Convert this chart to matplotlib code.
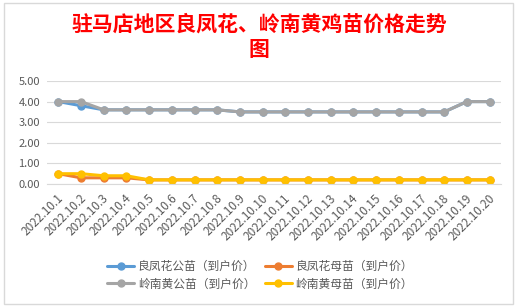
import matplotlib.pyplot as plt
import matplotlib.transforms as mtransforms
from matplotlib.patches import Rectangle

plt.rcParams["font.family"] = ["Noto Sans CJK SC", "DejaVu Sans"]

dates = [f"2022.10.{d}" for d in range(1, 21)]

lfh_male = [4.0, 3.8, 3.6, 3.6, 3.6, 3.6, 3.6, 3.6, 3.5, 3.5,
            3.5, 3.5, 3.5, 3.5, 3.5, 3.5, 3.5, 3.5, 4.0, 4.0]
lfh_female = [0.5, 0.3, 0.3, 0.3, 0.2, 0.2, 0.2, 0.2, 0.2, 0.2,
              0.2, 0.2, 0.2, 0.2, 0.2, 0.2, 0.2, 0.2, 0.2, 0.2]
lnh_male = [4.0, 4.0, 3.6, 3.6, 3.6, 3.6, 3.6, 3.6, 3.5, 3.5,
            3.5, 3.5, 3.5, 3.5, 3.5, 3.5, 3.5, 3.5, 4.0, 4.0]
lnh_female = [0.5, 0.5, 0.4, 0.4, 0.2, 0.2, 0.2, 0.2, 0.2, 0.2,
              0.2, 0.2, 0.2, 0.2, 0.2, 0.2, 0.2, 0.2, 0.2, 0.2]

series = [
    ("良凤花公苗（到户价）", lfh_male, "#5B9BD5"),
    ("良凤花母苗（到户价）", lfh_female, "#ED7D31"),
    ("岭南黄公苗（到户价）", lnh_male, "#A5A5A5"),
    ("岭南黄母苗（到户价）", lnh_female, "#FFC000"),
]

fig = plt.figure(figsize=(5.19, 3.07), dpi=100)
fig.patches.append(Rectangle((4 / 519, 1 - 304 / 307), 509 / 519, 301 / 307,
                             transform=fig.transFigure, fill=False,
                             edgecolor="#D9D9D9", linewidth=1))

ax = fig.add_axes([47 / 519, 1 - 184 / 307, 454 / 519, 103 / 307])
x = list(range(len(dates)))
handles = []
for label, values, color in series:
    (h,) = ax.plot(x, values, color=color, linewidth=2.2, marker="o",
                   markersize=5, label=label, solid_capstyle="round")
    handles.append(h)

ax.set_xlim(-0.5, len(dates) - 0.5)
ax.set_ylim(0, 5)
ax.set_yticks([0, 1, 2, 3, 4, 5])
ax.set_yticklabels([f"{v:.2f}" for v in [0, 1, 2, 3, 4, 5]])
ax.set_xticks(x)
ax.set_xticklabels(dates, rotation=45, ha="right", va="center",
                   rotation_mode="anchor")
ax.tick_params(axis="both", length=0, colors="#595959")
ax.tick_params(axis="y", labelsize=8, pad=5)
ax.tick_params(axis="x", labelsize=8.5, pad=9)
# nudge date labels slightly right so their ends sit just past each point
shift = mtransforms.ScaledTranslation(3 / 100, 0, fig.dpi_scale_trans)
for lbl in ax.get_xticklabels():
    lbl.set_transform(lbl.get_transform() + shift)
ax.grid(axis="y", color="#D9D9D9", linewidth=0.8)
ax.set_axisbelow(True)
for side in ["top", "right", "left"]:
    ax.spines[side].set_visible(False)
ax.spines["bottom"].set_color("#D9D9D9")
ax.spines["bottom"].set_linewidth(0.8)

fig.text(259 / 519, 1 - 24 / 307, "驻马店地区良凤花、岭南黄鸡苗价格走势",
         ha="center", va="center", color="#FF0000", fontsize=15,
         fontweight="bold")
fig.text(259 / 519, 1 - 49 / 307, "图", ha="center", va="center",
         color="#FF0000", fontsize=15, fontweight="bold")

# row-major order like the original legend
order = [0, 2, 1, 3]
fig.legend(handles=[handles[i] for i in order], loc="center", ncol=2,
           bbox_to_anchor=(260 / 519, 1 - 275 / 307), frameon=False,
           fontsize=8.5, handlelength=2.3, handletextpad=0.3,
           columnspacing=0.8, labelspacing=0.4, labelcolor="#595959")

fig.savefig("out.png", dpi=100)
